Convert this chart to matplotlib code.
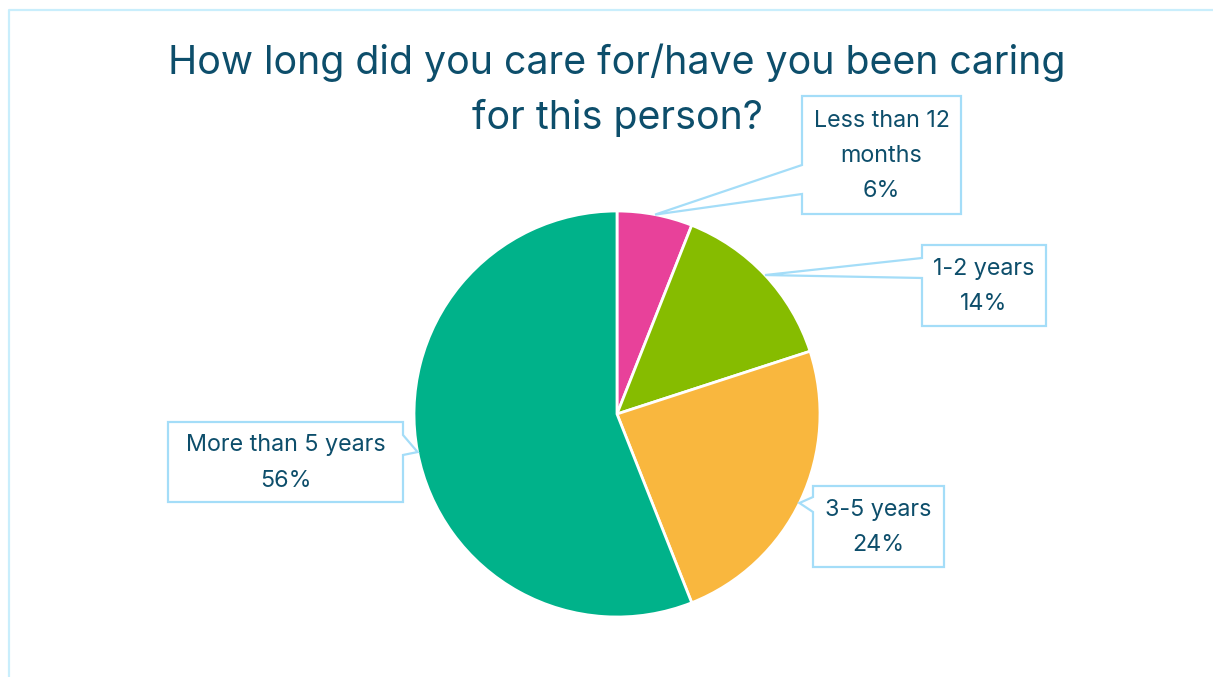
import numpy as np
import matplotlib.pyplot as plt
from matplotlib.patches import Polygon

plt.rcParams['font.family'] = ['Inter', 'DejaVu Sans']

title_lines = ['How long did you care for/have you been caring', 'for this person?']
categories = ['Less than 12\nmonths', '1-2 years', '3-5 years', 'More than 5 years']
shares = [6, 14, 24, 56]
colors = ['#e8419a', '#86bc00', '#f9b73e', '#00b28a']

W, H = 1213, 677
text_col = '#0d4e6b'
box_col = '#a4ddf8'

# pie geometry in pixel space (y measured from the top)
cx, cy, r = 617, 414, 203
# callout boxes: x0, x1, y0, y1, pointer base top/bottom, side, tip angle override
boxes = [
    (802, 961, 96, 214, 165, 194, 'left', None),
    (922, 1046, 245, 326, 258, 278, 'left', None),
    (813, 944, 486, 567, 497, 512, 'left', -26),
    (168, 403, 422, 502, 435, 455, 'right', None),
]


def fy(y):
    return H - y


fig = plt.figure(figsize=(W / 100, H / 100), dpi=100)
ax = fig.add_axes([0, 0, 1, 1])

ax.pie(shares, center=(cx, fy(cy)), radius=r, startangle=90, counterclock=False,
       colors=colors, wedgeprops=dict(edgecolor='white', linewidth=2))
ax.set_xlim(0, W)
ax.set_ylim(0, H)
ax.set_aspect('equal')
ax.axis('off')

# outer frame (cropped on the right and bottom)
ax.plot([9, 9, W], [fy(H), fy(10), fy(10)], color='#c9eefc', lw=1.6, solid_capstyle='butt')

for line, base in zip(title_lines, [74, 129]):
    ax.text(cx, fy(base), line, ha='center', va='baseline', fontsize=28.3, color=text_col)

# callouts
total = sum(shares)
start = 90.0
for i, (lab, val) in enumerate(zip(categories, shares)):
    sweep = 360 * val / total
    mid = start - sweep / 2
    start -= sweep
    x0, x1, y0, y1, b0, b1, side, tip_ang = boxes[i]
    ang = np.radians(mid if tip_ang is None else tip_ang)
    tx, ty = cx + r * np.cos(ang), cy - r * np.sin(ang)
    if side == 'left':
        pts = [(x0, y0), (x1, y0), (x1, y1), (x0, y1), (x0, b1), (tx, ty), (x0, b0)]
    else:
        pts = [(x0, y0), (x1, y0), (x1, b0), (tx, ty), (x1, b1), (x1, y1), (x0, y1)]
    pts = [(px, fy(py)) for px, py in pts]
    ax.add_patch(Polygon(pts, closed=True, facecolor='white', edgecolor=box_col,
                         lw=1.6, joinstyle='miter', zorder=3))
    ax.text((x0 + x1) / 2, fy((y0 + y1) / 2 + 1), f'{lab}\n{val}%', ha='center',
            va='center', fontsize=16.8, color=text_col, linespacing=1.78, zorder=4)

fig.savefig('out.png', dpi=100)
